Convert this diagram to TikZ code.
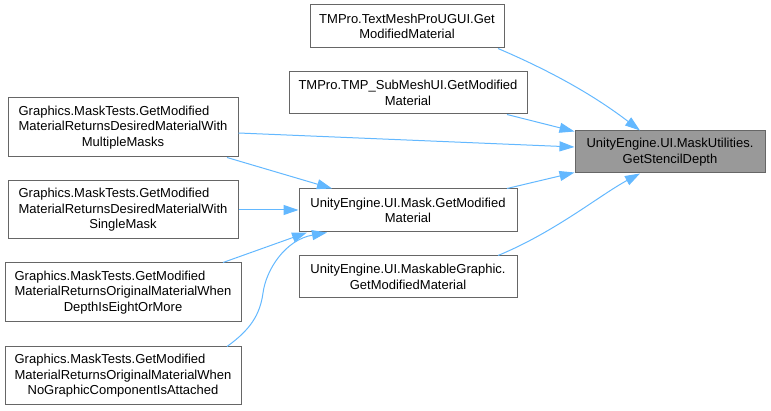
\documentclass[tikz,border=0pt]{standalone}
\usepackage{fontspec}
\setmainfont{Liberation Sans}
\usepackage{calc}
\usetikzlibrary{arrows.meta}
\definecolor{edgeblue}{HTML}{63B8FF}
\definecolor{boxgray}{HTML}{666666}
\definecolor{tgtfill}{HTML}{999999}
\newcommand{\LLine}[2]{\makebox[\widthof{#2}][l]{#1}}
\begin{document}
\begin{tikzpicture}[x=1pt,y=-1pt,
 fn/.style={draw=boxgray, line width=1pt, fill=white, inner sep=0pt, align=center, font=\fontsize{13}{15.5}\selectfont},
 tgt/.style={fn, fill=tgtfill},
 link/.style={draw=edgeblue, line width=1pt, -{Triangle[length=15pt,width=10pt]}}]
\useasboundingbox (0,0) rectangle (771,411);
\node[tgt, minimum width=190pt, minimum height=42pt] (T) at (670,152) {UnityEngine.UI.MaskUtilities.\\GetStencilDepth};
\node[fn, minimum width=194pt, minimum height=43pt] (A) at (407,26.5) {TMPro.TextMeshProUGUI.Get\\ModifiedMaterial};
\node[fn, minimum width=238pt, minimum height=42pt] (B) at (408,93) {TMPro.TMP\_SubMeshUI.GetModified\\Material};
\node[fn, minimum width=218pt, minimum height=43pt] (C) at (408,210.5) {UnityEngine.UI.Mask.GetModified\\Material};
\node[fn, minimum width=218pt, minimum height=42pt] (D) at (408,277) {UnityEngine.UI.MaskableGraphic.\\GetModifiedMaterial};
\node[fn, minimum width=230pt, minimum height=59pt] (E) at (123,127.5) {\LLine{Graphics.MaskTests.GetModified}{MaterialReturnsDesiredMaterialWith}\\MaterialReturnsDesiredMaterialWith\\MultipleMasks};
\node[fn, minimum width=230pt, minimum height=58pt] (F) at (123,210) {\LLine{Graphics.MaskTests.GetModified}{MaterialReturnsDesiredMaterialWith}\\MaterialReturnsDesiredMaterialWith\\SingleMask};
\node[fn, minimum width=236pt, minimum height=59pt] (G) at (123,292.5) {\LLine{Graphics.MaskTests.GetModified}{MaterialReturnsOriginalMaterialWhen}\\MaterialReturnsOriginalMaterialWhen\\DepthIsEightOrMore};
\node[fn, minimum width=236pt, minimum height=58pt] (H) at (123,376) {\LLine{Graphics.MaskTests.GetModified}{MaterialReturnsOriginalMaterialWhen}\\MaterialReturnsOriginalMaterialWhen\\NoGraphicComponentIsAttached};
% edges to target
\draw[link] ([xshift=91pt]A.south) .. controls (560,75) and (600,100) .. ([xshift=-30pt]T.north);
\draw[link] ([xshift=99pt]B.south) -- ([yshift=-1pt]T.north west);
\draw[link] ([yshift=-5.5pt]E.east) -- ([yshift=5pt]T.west);
\draw[link] ([xshift=99pt]C.north) -- ([yshift=1pt]T.south west);
\draw[link] ([xshift=90pt]D.north) .. controls (555,232) and (600,195) .. ([xshift=-30pt]T.south);
% edges to Mask
\draw[link] ([xshift=104pt]E.south) -- ([xshift=-76pt]C.north);
\draw[link] (F.east) -- (F.east -| C.west);
\draw[link] ([xshift=100pt]G.north) -- ([xshift=-101pt]C.south);
\draw[link] ([xshift=104pt]H.north) .. controls (250,330) and (260,315) .. (263,293) .. controls (266,270) and (285,240) .. ([xshift=-81pt]C.south);
\end{tikzpicture}
\end{document}
